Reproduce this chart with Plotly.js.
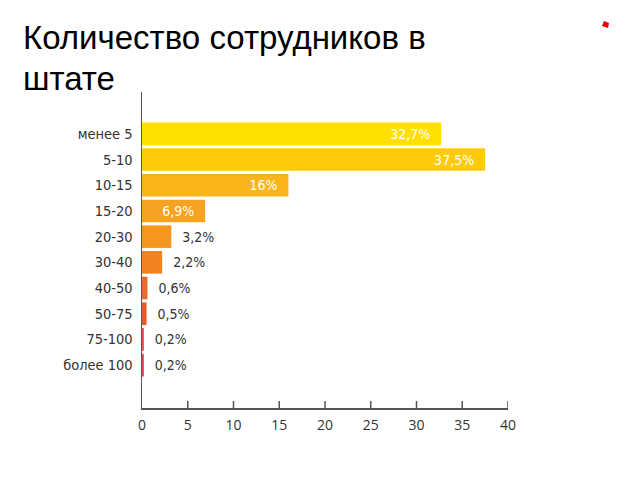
<!DOCTYPE html>
<html>
<head>
<meta charset="utf-8">
<script src="https://cdn.plot.ly/plotly-3.0.1.min.js"></script>
<style>html,body{margin:0;padding:0;background:#fff;}#chart{width:640px;height:480px;}</style>
</head>
<body>
<div id="chart"></div>
<script>
var categories = ["менее 5", "5-10", "10-15", "15-20", "20-30", "30-40", "40-50", "50-75", "75-100", "более 100"];
var values = [32.7, 37.5, 16, 6.9, 3.2, 2.2, 0.6, 0.5, 0.2, 0.2];
var valueLabels = ["32,7%", "37,5%", "16%", "6,9%", "3,2%", "2,2%", "0,6%", "0,5%", "0,2%", "0,2%"];
var barColors = ["#FFE000", "#FDCB0C", "#F9B519", "#F6A223", "#F5971F", "#F28222", "#EC6B27", "#E8592A", "#E24E3E", "#DC4848"];
var xTicks = [0, 5, 10, 15, 20, 25, 30, 35, 40];
var titleLines = ["Количество сотрудников в", "штате"];

var insideCount = 4;
var positions = values.map(function(v, i){ return i < insideCount ? "inside" : "outside"; });
var labelFont = "DejaVu Sans Condensed, Roboto, sans-serif";

var trace = {
  type: "bar",
  orientation: "h",
  x: values,
  y: categories,
  text: valueLabels.map(function(t, i){ return i < insideCount ? t + "  " : "  " + t; }),
  textposition: positions,
  insidetextanchor: "end",
  insidetextfont: {family: labelFont, size: 14, color: "#FFFFFF"},
  outsidetextfont: {family: labelFont, size: 14, color: "#333333"},
  marker: {color: barColors},
  cliponaxis: false,
  hoverinfo: "skip"
};

var W = 366, H = 316;

var tickShapes = xTicks.filter(function(t){ return t > 0; }).map(function(t){
  return {
    type: "line", xref: "x", yref: "paper",
    x0: t, x1: t, y0: 0, y1: 7 / H,
    line: {color: "#555555", width: 1.5}
  };
});

var layout = {
  width: 640,
  height: 480,
  margin: {l: 142, r: 132, t: 92, b: 72},
  paper_bgcolor: "#FFFFFF",
  plot_bgcolor: "#FFFFFF",
  bargap: 0.12,
  showlegend: false,
  xaxis: {
    range: [0, 40],
    tickvals: xTicks,
    ticktext: xTicks.map(String),
    ticks: "",
    showline: true,
    linecolor: "#555555",
    linewidth: 1.5,
    showgrid: false,
    zeroline: false,
    ticklabelstandoff: 4,
    tickfont: {family: "Open Sans, sans-serif", size: 14, color: "#333333"}
  },
  yaxis: {
    type: "category",
    range: [10.67, -1.63],
    showline: true,
    linecolor: "#555555",
    linewidth: 1.5,
    showgrid: false,
    zeroline: false,
    ticks: "",
    ticklabelstandoff: 5,
    tickfont: {family: labelFont, size: 14.5, color: "#333333"}
  },
  annotations: [
    {
      xref: "paper", yref: "paper",
      x: (22 - 142) / W, y: 1 + (92 - 57) / H,
      xanchor: "left", yanchor: "bottom",
      align: "left", borderpad: 0,
      text: titleLines[0],
      showarrow: false,
      font: {family: "Liberation Sans, Arial, sans-serif", size: 33, color: "#000000"}
    },
    {
      xref: "paper", yref: "paper",
      x: (22 - 142) / W, y: 1 + (92 - 98) / H,
      xanchor: "left", yanchor: "bottom",
      align: "left", borderpad: 0,
      text: titleLines[1],
      showarrow: false,
      font: {family: "Liberation Sans, Arial, sans-serif", size: 33, color: "#000000"}
    }
  ],
  shapes: tickShapes.concat([
    {
      type: "path", xref: "paper", yref: "paper",
      path: "M " + (460/W) + " " + (1 + 66/H) + " L " + (462/W) + " " + (1 + 71/H) + " L " + (467/W) + " " + (1 + 69/H) + " L " + (466/W) + " " + (1 + 64/H) + " Z",
      fillcolor: "#E8000B", line: {width: 0}
    }
  ])
};

Plotly.newPlot("chart", [trace], layout, {displayModeBar: false, staticPlot: true});
</script>
</body>
</html>
